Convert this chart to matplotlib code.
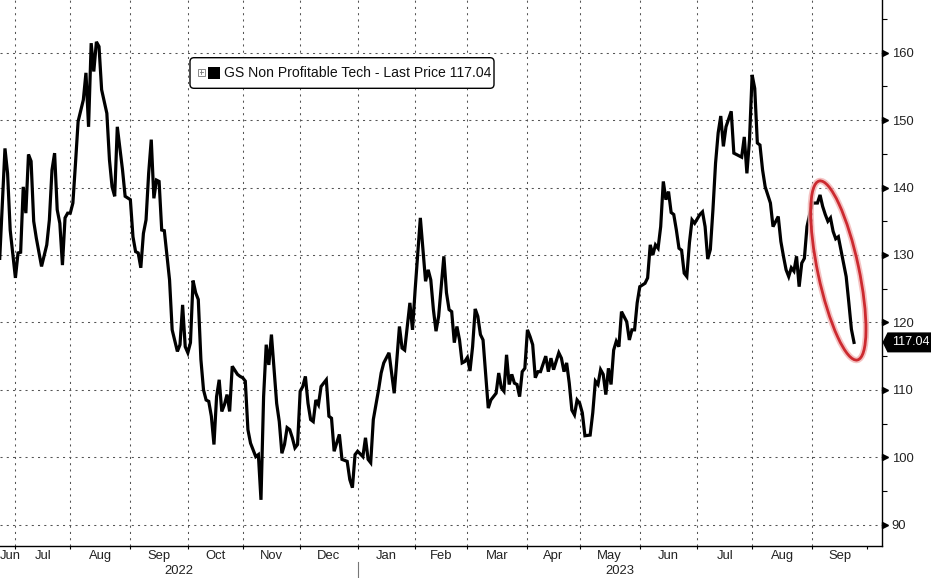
import numpy as np
import matplotlib
matplotlib.use('Agg')
from matplotlib import pyplot as plt
from matplotlib.patches import Ellipse, FancyBboxPatch, Polygon, Rectangle
from matplotlib.transforms import IdentityTransform

plt.rcParams['font.family'] = ['Liberation Sans', 'DejaVu Sans']

# x axis counts weekdays, session 0 = 2022-07-01
ORIGIN = '2022-07-01'

session = [
    -6, -4, -3, -2, 0, 1, 2, 3, 4, 5, 6, 7, 8, 10, 12, 13, 14, 15, 16, 17,
    18, 19, 20, 21, 22, 23, 24, 26, 27, 28, 29, 30, 31, 32, 33, 35, 36, 37, 38, 39,
    41, 42, 44, 45, 46, 47, 48, 49, 50, 51, 52, 53, 54, 55, 56, 57, 59, 60, 62, 63,
    64, 65, 66, 67, 68, 69, 70, 71, 72, 73, 74, 75, 76, 77, 78, 79, 80, 81, 82, 83,
    85, 86, 87, 88, 89, 90, 92, 93, 94, 95, 96, 97, 98, 99, 100, 101, 102, 103, 104, 105,
    106, 107, 108, 109, 110, 111, 112, 113, 114, 115, 116, 117, 119, 120, 121, 122, 124, 125, 127, 128,
    129, 130, 131, 133, 134, 135, 136, 137, 139, 140, 141, 143, 144, 145, 147, 148, 149, 151, 152, 153,
    155, 157, 158, 159, 160, 161, 162, 164, 165, 166, 167, 168, 169, 170, 171, 172, 173, 174, 175, 176,
    177, 178, 179, 181, 182, 183, 184, 185, 186, 187, 188, 189, 190, 191, 192, 193, 194, 195, 196, 197,
    198, 199, 200, 201, 203, 204, 205, 206, 208, 209, 210, 211, 212, 213, 214, 215, 216, 217, 218, 220,
    221, 222, 223, 224, 225, 226, 227, 228, 229, 230, 231, 232, 234, 235, 236, 237, 238, 239, 241, 242,
    243, 244, 245, 246, 247, 248, 249, 250, 251, 252, 253, 254, 255, 256, 257, 258, 259, 260, 262, 263,
    264, 265, 266, 267, 268, 269, 270, 271, 272, 274, 275, 277, 278, 279, 280, 281, 282, 283, 284, 285,
    286, 287, 289, 290, 292, 293, 294, 295, 296, 297, 298, 299, 300, 301, 302, 303, 304, 305, 307, 308,
    309, 310, 311, 312, 313, 314, 315, 317, 318, 319, 320, 321,
]
price = [
    129.5, 145.8, 142.1, 133.7, 126.6, 130.3, 130.4, 140.1, 136.2, 144.9, 143.9, 135.0, 132.5, 128.3, 131.5, 135.2, 142.6, 145.1, 136.7, 134.7,
    128.5, 135.5, 136.2, 136.2, 137.7, 143.6, 149.8, 153.0, 157.0, 149.0, 161.4, 157.2, 161.6, 160.9, 154.5, 151.0, 144.1, 140.1, 138.7, 149.0,
    142.6, 138.7, 138.2, 132.7, 130.5, 130.3, 128.1, 133.2, 135.2, 142.1, 147.1, 138.4, 141.1, 140.9, 133.7, 133.6, 126.3, 118.9, 115.7, 116.7,
    122.6, 116.4, 115.5, 117.0, 126.2, 124.4, 123.4, 114.5, 110.0, 108.5, 108.3, 106.1, 101.9, 109.0, 111.5, 106.8, 107.8, 109.3, 106.8, 113.5,
    112.3, 112.0, 111.8, 111.3, 104.1, 102.1, 100.1, 100.4, 93.7, 109.0, 116.7, 113.7, 118.2, 113.0, 108.0, 105.3, 100.6, 101.9, 104.4, 104.1,
    102.9, 101.4, 101.9, 109.8, 110.5, 112.0, 108.0, 105.6, 105.3, 108.5, 107.8, 110.5, 111.5, 106.1, 105.8, 100.9, 103.4, 99.7, 99.4, 96.7,
    95.5, 100.4, 100.9, 100.1, 102.9, 99.7, 99.2, 105.6, 110.0, 112.5, 114.0, 115.5, 112.5, 109.5, 119.4, 116.2, 115.9, 122.9, 118.9, 124.8,
    135.5, 126.1, 127.8, 126.3, 121.9, 118.7, 120.9, 129.8, 124.4, 121.9, 121.6, 117.0, 119.4, 117.4, 114.0, 114.2, 114.8, 112.8, 116.4, 122.0,
    120.9, 118.2, 117.4, 107.3, 108.5, 109.0, 109.5, 112.5, 110.3, 109.8, 115.2, 110.8, 112.3, 111.0, 110.8, 109.0, 112.7, 113.2, 118.9, 117.9,
    116.7, 111.8, 112.7, 112.7, 115.0, 112.7, 114.7, 113.0, 115.5, 114.7, 112.7, 114.0, 111.0, 107.0, 106.3, 108.5, 108.0, 106.6, 103.2, 103.3,
    106.6, 111.3, 110.8, 113.0, 112.3, 109.3, 113.2, 110.8, 115.9, 117.2, 116.4, 121.6, 120.1, 117.4, 118.9, 118.9, 122.9, 125.3, 125.8, 126.6,
    131.5, 130.0, 131.5, 131.0, 134.2, 140.9, 138.2, 139.4, 136.3, 136.0, 133.7, 131.0, 130.7, 127.3, 126.8, 131.8, 135.2, 134.7, 136.0, 136.4,
    134.2, 129.4, 130.8, 136.7, 143.6, 148.1, 150.6, 146.1, 149.0, 151.3, 145.1, 144.7, 144.5, 147.5, 142.1, 147.1, 156.7, 154.7, 146.6, 146.3,
    142.6, 140.1, 137.7, 134.2, 135.7, 132.0, 129.8, 127.8, 126.8, 128.1, 127.6, 129.8, 125.3, 128.8, 129.5, 134.2, 136.0, 137.7, 137.7, 138.9,
    137.2, 136.0, 135.0, 135.5, 133.5, 132.4, 132.7, 128.8, 126.8, 123.0, 119.0, 117.04,
]

month_starts = ['2022-06-01', '2022-07-01', '2022-08-01', '2022-09-01', '2022-10-01', '2022-11-01',
                '2022-12-01', '2023-01-01', '2023-02-01', '2023-03-01', '2023-04-01', '2023-05-01',
                '2023-06-01', '2023-07-01', '2023-08-01', '2023-09-01', '2023-10-01']
month_names = ['Jun', 'Jul', 'Aug', 'Sep', 'Oct', 'Nov', 'Dec', 'Jan', 'Feb', 'Mar', 'Apr', 'May',
               'Jun', 'Jul', 'Aug', 'Sep']
years = ['2022', '2023']
year_start = '2023-01-01'
y_ticks = [90, 100, 110, 120, 130, 140, 150, 160]
last_price = 117.04
legend_label = 'GS Non Profitable Tech - Last Price 117.04'

FS = 9.4
W, H = 931, 578
fig = plt.figure(figsize=(W / 100, H / 100), dpi=100)
ax = fig.add_axes([0, 1 - 545.7 / H, 881.7 / W, 545.7 / H])

xlim = (-5.9, 331.6)
ax.set_xlim(*xlim)
ax.set_ylim(86.9, 167.8)

ax.plot(session, price, color='black', lw=2.3, solid_joinstyle='miter', zorder=3)

# spines
for s in ['left', 'top']:
    ax.spines[s].set_visible(False)
for s in ['right', 'bottom']:
    ax.spines[s].set_linewidth(1.0)
    ax.spines[s].set_color('black')

# y axis on the right
ax.yaxis.tick_right()
ax.set_yticks(y_ticks)
ax.set_yticklabels([str(v) for v in y_ticks])
ax.set_yticks(np.arange(95, 170, 10), minor=True)
ax.tick_params(axis='y', which='major', length=0, pad=7.2, labelsize=FS, labelcolor='#222222')
ax.tick_params(axis='y', which='minor', length=3.6, width=0.8, direction='out', color='black')
ax.plot(np.full(len(y_ticks), 1.0034), y_ticks, ls='none', marker='>', ms=4.5, color='black',
        transform=ax.get_yaxis_transform(), clip_on=False)

# x axis: month boundaries + centred month names (kept inside the frame)
starts = np.busday_count(ORIGIN, month_starts)
centres = [(max(a, xlim[0]) + min(b, xlim[1])) / 2 for a, b in zip(starts[:-1], starts[1:])]
centres = [max(c, xlim[0] + 3.8) for c in centres]
ax.set_xticks(starts[1:])
ax.set_xticklabels([])
ax.tick_params(axis='x', which='major', length=2.2, width=0.8, direction='out', color='black')
ax.set_xticks(centres, minor=True)
ax.set_xticklabels(month_names, minor=True)
ax.tick_params(axis='x', which='minor', length=0, pad=3, labelsize=FS, labelcolor='#222222')

# years under the months
ys = np.busday_count(ORIGIN, year_start)
ax.text((xlim[0] + ys) / 2, -0.0465, years[0], transform=ax.get_xaxis_transform(),
        ha='center', va='center', fontsize=FS, color='#222222')
ax.text((ys + xlim[1]) / 2, -0.0465, years[1], transform=ax.get_xaxis_transform(),
        ha='center', va='center', fontsize=FS, color='#222222')
ax.plot([ys, ys], [-0.03, -0.06], color='#777777', lw=0.8, transform=ax.get_xaxis_transform(),
        clip_on=False)

# dotted grid
for v in y_ticks:
    ax.axhline(v, color='#555555', lw=0.75, ls=(0, (2, 4)), zorder=1)
for v in starts[1:-1]:
    ax.axvline(v, color='#555555', lw=0.75, ls=(0, (2, 4)), zorder=1)

fig.canvas.draw()
ident = IdentityTransform()

# last price tag on the axis
_, ty = ax.transData.transform((0, last_price))
tag = Polygon([(882.5, ty), (887.5, ty + 10), (931, ty + 10), (931, ty - 10), (887.5, ty - 10)],
              closed=True, facecolor='black', edgecolor='none', transform=ident, zorder=5)
fig.add_artist(tag)
fig.text(929.5 / W, ty / H, f'{last_price:.2f}', color='white', fontsize=9.0, va='center',
         ha='right', zorder=7)

# legend box
box = FancyBboxPatch((190, H - 88.3), 304, 30.6, boxstyle='round,pad=0,rounding_size=4',
                     facecolor='white', edgecolor='black', lw=1.0, transform=ident, zorder=5)
fig.add_artist(box)
fig.add_artist(Rectangle((198, H - 75.5), 6.5, 6.5, facecolor='white', edgecolor='#777777',
                         lw=0.6, transform=ident, zorder=6))
fig.add_artist(plt.Line2D([199.5, 203.2], [H - 72.25, H - 72.25], color='#777777', lw=0.6,
                          transform=ident, zorder=6))
fig.add_artist(plt.Line2D([201.25, 201.25], [H - 70.4, H - 74.1], color='#777777', lw=0.6,
                          transform=ident, zorder=6))
fig.add_artist(Rectangle((208.3, H - 79), 11.7, 12.3, facecolor='black', edgecolor='none',
                         transform=ident, zorder=6))
fig.text(224 / W, 1 - 73 / H, legend_label, fontsize=10.1, color='#111111', va='center',
         ha='left', zorder=7)

# red ellipse round the September drop
cx, cy = ax.transData.transform((315, 127.7))
fig.add_artist(Ellipse((cx, cy), 41, 183, angle=12, facecolor='none', edgecolor='#f2b5b5',
                       lw=4.5, alpha=0.8, transform=ident, zorder=4))
fig.add_artist(Ellipse((cx, cy), 41, 183, angle=12, facecolor='none', edgecolor='#cc2a30',
                       lw=2.0, transform=ident, zorder=4))

fig.savefig('out.png', dpi=100)
